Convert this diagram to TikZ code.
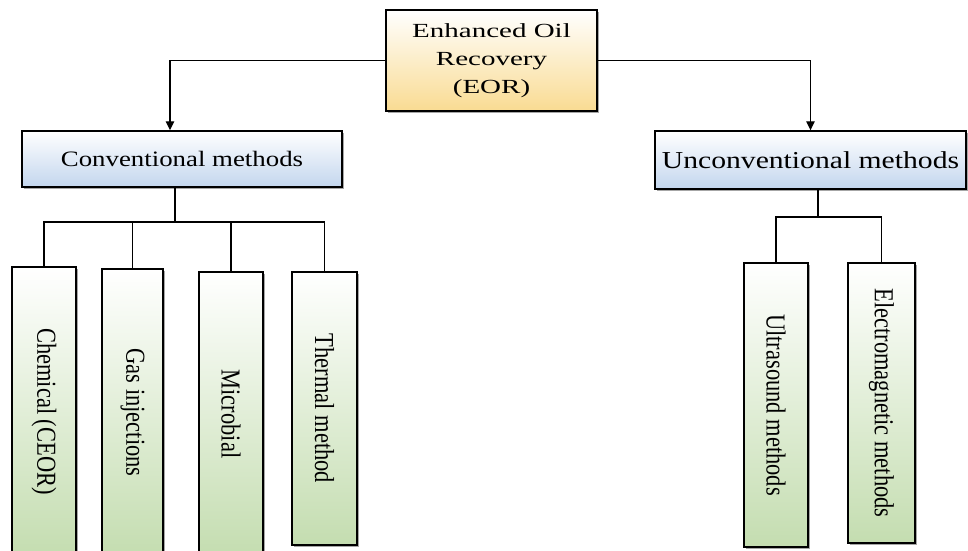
\documentclass[tikz,border=0pt]{standalone}
\usepackage{fontspec}
\setmainfont{Liberation Serif}[FakeStretch=1.22]
\newfontfamily\eorfont{Liberation Serif}[FakeStretch=1.45]
\newfontfamily\leaffont{Liberation Serif}
\usepackage{graphicx}
\usetikzlibrary{positioning, arrows.meta, shadows}
\definecolor{eorfill}{HTML}{F9DB92}
\definecolor{classfill}{HTML}{C3D6EE}
\definecolor{leaffill}{HTML}{C4DDB0}
% vertical text, read top to bottom
\newcommand{\vtext}[1]{\scalebox{1.22}[1]{\rotatebox{-90}{#1}}}

\begin{document}
\begin{tikzpicture}[
		% GLOBAL CFG
		x=1pt, y=1pt,
		>={Triangle[length=9pt,width=8.5pt]},
		% Styles
		box/.style={% common frame of all boxes
			rectangle,
			draw,
			line width=1.4pt,
			inner sep=0pt,
			drop shadow={shadow xshift=2pt, shadow yshift=-2pt, fill=black!35, opacity=1},
		},
		root/.style={% the EOR box on top
			box,
			top color=white,
			bottom color=eorfill,
			align=center,
			font=\eorfont\fontsize{20}{28}\selectfont,
		},
		class/.style={% conventional / unconventional
			box,
			top color=white,
			bottom color=classfill,
		},
		leaf/.style={% the tall method boxes
			box,
			top color=white,
			bottom color=leaffill,
			font=\leaffont\fontsize{22.5}{27}\selectfont,
		},
		wire/.style={% connecting lines
			line width=1.4pt,
		},
		]
		\useasboundingbox (0,0) rectangle (968,550);

		% Top box
		\node [root, minimum width=211pt, minimum height=101pt] (eor) at (491.5,489.5) {Enhanced Oil\\Recovery\\(EOR)};

		% Two classes
		\node [class, minimum width=320pt, minimum height=56pt, font=\fontsize{22}{26}\selectfont] (conv) at (182,391) {Conventional methods};
		\node [class, minimum width=311pt, minimum height=58pt, font=\fontsize{24.3}{28}\selectfont] (unconv) at (810.5,390) {Unconventional methods};

		% Conventional methods
		\node [leaf, minimum width=64pt, minimum height=289pt] (chem) at (44,138.5) {\vtext{Chemical (CEOR)}};
		\node [leaf, minimum width=61pt, minimum height=287pt] (gas) at (132.5,137.5) {\vtext{Gas injections}};
		\node [leaf, minimum width=64pt, minimum height=284pt] (micro) at (231,136) {\vtext{Microbial}};
		\node [leaf, minimum width=65pt, minimum height=273pt] (therm) at (324.5,141.5) {\vtext{Thermal method}};

		% Unconventional methods
		\node [leaf, minimum width=64pt, minimum height=284pt] (ultra) at (776,145) {\vtext{Ultrasound methods}};
		\node [leaf, minimum width=67pt, minimum height=280pt] (electro) at (881.5,147) {\vtext{Electromagnetic methods}};

		% Arrows from the top
		\draw [wire, ->] (eor.west) -| ([xshift=-12pt]conv.north);
		\draw [wire, ->] (eor.east) -| (unconv.north);

		% Conventional tree
		\coordinate (cbus) at (175,328);
		\draw [wire] ([xshift=-7pt]conv.south) -- (cbus);
		\draw [wire] (chem.north) |- (therm.north |- cbus) -- (therm.north);
		\foreach \n in {gas,micro}
			\draw [wire] (\n.north) -- (\n.north |- cbus);

		% Unconventional tree
		\coordinate (ubus) at (818,333);
		\draw [wire] ([xshift=7.5pt]unconv.south) -- (ubus);
		\draw [wire] (ultra.north) |- (electro.north |- ubus) -- (electro.north);

	\end{tikzpicture}
\end{document}
